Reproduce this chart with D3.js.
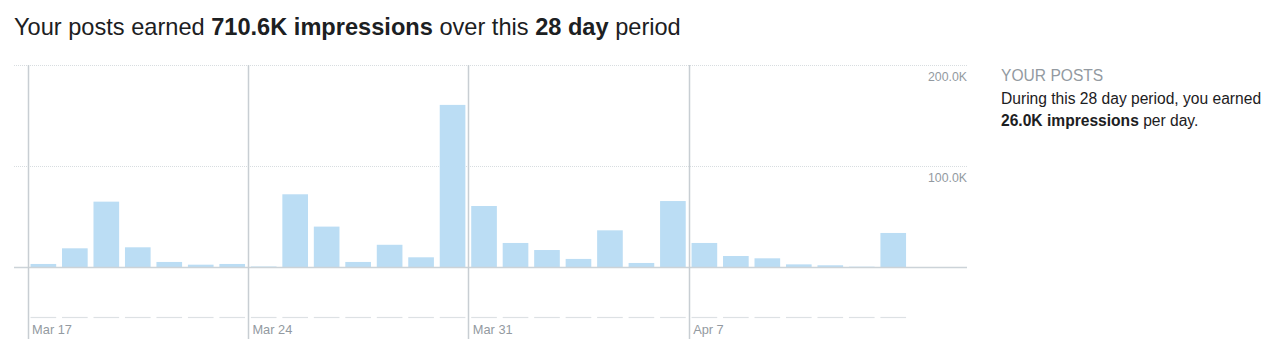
<!DOCTYPE html>
<html><head><meta charset="utf-8">
<script src="https://cdn.jsdelivr.net/npm/d3@7"></script>
<style>
html,body{margin:0;padding:0;background:#fff;}
svg{display:block;font-family:"Liberation Sans",Arial,Helvetica,sans-serif;}
</style></head>
<body>
<svg id="c" width="1280" height="352"></svg>
<script>
const days = ["Mar 17","Mar 18","Mar 19","Mar 20","Mar 21","Mar 22","Mar 23",
  "Mar 24","Mar 25","Mar 26","Mar 27","Mar 28","Mar 29","Mar 30",
  "Mar 31","Apr 1","Apr 2","Apr 3","Apr 4","Apr 5","Apr 6",
  "Apr 7","Apr 8","Apr 9","Apr 10","Apr 11","Apr 12","Apr 13"];
const impressions = [3000,18500,64700,19500,5000,2300,3000,
  500,72000,40000,5000,22000,9600,160500,
  60400,23800,16800,8000,36300,4000,65300,
  23800,10900,8600,2600,1700,300,33700];
const weekLabels = ["Mar 17","Mar 24","Mar 31","Apr 7"];
const yTicks = [100000,200000];

const svg = d3.select("#c");
const x = d3.scaleBand().domain(days).range([27.7, 908.9]).paddingInner(0.185).paddingOuter(0.09);
const y = d3.scaleLinear().domain([0,200000]).range([267,65]);
const gridL = 14, gridR = 967;

// horizontal dotted gridlines
svg.append("g").selectAll("line").data(yTicks).join("line")
  .attr("x1",gridL).attr("x2",gridR)
  .attr("y1",d=>y(d)+0.5).attr("y2",d=>y(d)+0.5)
  .attr("stroke","#d8dde0").attr("stroke-width",1).attr("stroke-dasharray","1,1");

// y labels
svg.append("g").selectAll("text").data(yTicks).join("text")
  .attr("x",gridR).attr("y",d=>y(d)+15.5)
  .attr("text-anchor","end").attr("font-size",12.3).attr("fill","#939aa1")
  .text(d=>d3.format(".1f")(d/1000)+"K");

// bars
svg.append("g").selectAll("rect").data(impressions).join("rect")
  .attr("x",(d,i)=>x(days[i])).attr("width",x.bandwidth())
  .attr("y",d=>y(d)).attr("height",d=>y(0)-y(d))
  .attr("fill","#bbddf4");

// baseline
svg.append("line").attr("x1",gridL).attr("x2",gridR)
  .attr("y1",y(0)+0.5).attr("y2",y(0)+0.5)
  .attr("stroke","#ccd3d8").attr("stroke-width",1.5);

// bottom dashes under each day
svg.append("g").selectAll("line").data(days).join("line")
  .attr("x1",d=>x(d)).attr("x2",d=>x(d)+x.bandwidth())
  .attr("y1",317.5).attr("y2",317.5)
  .attr("stroke","#dde1e4").attr("stroke-width",1.2);

// week vertical lines
const weekX = d => x(d) - x.step()*x.paddingInner()/2;
svg.append("g").selectAll("line").data(weekLabels).join("line")
  .attr("x1",d=>Math.round(weekX(d))+0.5).attr("x2",d=>Math.round(weekX(d))+0.5)
  .attr("y1",65).attr("y2",339)
  .attr("stroke","#c8ced3").attr("stroke-width",1.5);

svg.append("g").selectAll("text").data(weekLabels).join("text")
  .attr("x",d=>weekX(d)+4.5).attr("y",333.5)
  .attr("font-size",12.8).attr("fill","#939aa1")
  .text(d=>d);

// title
const t = svg.append("text").attr("x",14).attr("y",34.5).attr("font-size",23.6).attr("fill","#1c2022");
[["Your posts earned ",400],["710.6K impressions",700],[" over this ",400],["28 day",700],[" period",400]]
  .forEach(([s,w])=>t.append("tspan").attr("font-weight",w).text(s));

// right panel
svg.append("text").attr("x",1001).attr("y",80.5).attr("font-size",15.6).attr("fill","#939aa1").text("YOUR POSTS");
svg.append("text").attr("x",1001).attr("y",103.5).attr("font-size",15.6).attr("fill","#1c2022").text("During this 28 day period, you earned");
const p = svg.append("text").attr("x",1001).attr("y",126).attr("font-size",15.6).attr("fill","#1c2022");
p.append("tspan").attr("font-weight",700).text("26.0K impressions");
p.append("tspan").text(" per day.");
</script>
</body></html>
